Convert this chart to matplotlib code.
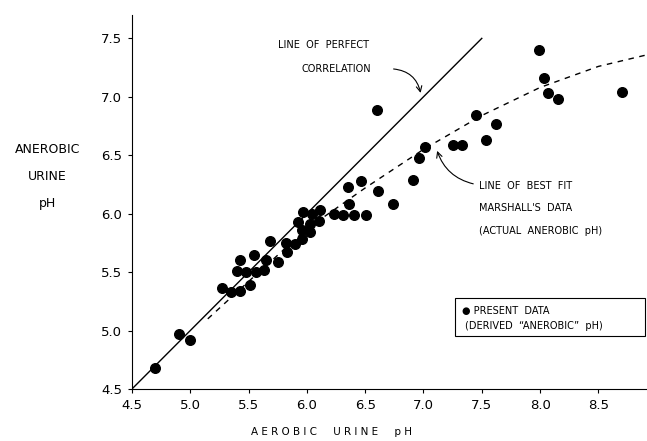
import matplotlib
matplotlib.use("Agg")
import matplotlib.pyplot as plt
from matplotlib.patches import Rectangle

# present data (derived "anerobic" pH)
aerobic = [4.70, 4.90, 5.00, 5.27, 5.35, 5.43, 5.51, 5.40, 5.48, 5.56, 5.63,
           5.43, 5.55, 5.65, 5.75, 5.68, 5.82, 5.83, 5.90, 5.96, 5.96, 6.03,
           5.92, 6.03, 6.10, 5.97, 6.04, 6.11, 6.23, 6.31, 6.40, 6.51, 6.36,
           6.35, 6.46, 6.61, 6.74, 6.60, 6.91, 6.96, 7.01, 7.25, 7.33, 7.45,
           7.54, 7.62, 7.99, 8.03, 8.07, 8.15, 8.70]
anerobic = [4.68, 4.97, 4.92, 5.36, 5.33, 5.34, 5.39, 5.51, 5.50, 5.50, 5.52,
            5.60, 5.65, 5.60, 5.59, 5.77, 5.75, 5.67, 5.74, 5.78, 5.86, 5.84,
            5.93, 5.91, 5.94, 6.01, 6.00, 6.03, 6.00, 5.99, 5.99, 5.99, 6.08,
            6.23, 6.28, 6.19, 6.08, 6.89, 6.29, 6.48, 6.57, 6.59, 6.59, 6.84,
            6.63, 6.77, 7.40, 7.16, 7.03, 6.98, 7.04]

# Marshall's best fit line
fit_x = [5.15, 5.5, 6.0, 6.5, 7.0, 7.5, 8.0, 8.5, 8.92]
fit_y = [5.10, 5.42, 5.87, 6.22, 6.55, 6.84, 7.08, 7.26, 7.36]

perfect = [4.5, 7.5]

ticks = [4.5, 5.0, 5.5, 6.0, 6.5, 7.0, 7.5, 8.0, 8.5]
yticks = [4.5, 5.0, 5.5, 6.0, 6.5, 7.0, 7.5]

fig = plt.figure(figsize=(6.47, 4.41), dpi=100)
ax = fig.add_axes([0.204, 0.118, 0.796, 0.848])

ax.plot(perfect, perfect, color="black", lw=1.0)
ax.plot(fit_x, fit_y, color="black", lw=1.0, ls=(0, (4, 4)))
ax.scatter(aerobic, anerobic, s=48, color="black", zorder=3)

ax.set_xlim(4.5, 8.917)
ax.set_ylim(4.5, 7.70)
ax.set_xticks(ticks)
ax.set_yticks(yticks)
ax.set_xticklabels(["%.1f" % t for t in ticks], fontsize=9.5)
ax.set_yticklabels(["%.1f" % t for t in yticks], fontsize=9.5)
ax.tick_params(length=3, width=0.8, pad=4)
ax.spines["top"].set_visible(False)
ax.spines["right"].set_visible(False)

fig.text(0.512, 0.02, "A E R O B I C     U R I N E     p H", ha="center",
         va="center", fontsize=7.5)
fig.text(0.073, 0.60, "ANEROBIC\nURINE\npH", ha="center", va="center",
         fontsize=9, linespacing=2.4)

ax.text(5.75, 7.44, "LINE  OF  PERFECT", fontsize=7, va="center")
ax.text(5.95, 7.24, "CORRELATION", fontsize=7, va="center")
ax.annotate("", xy=(6.98, 7.01), xytext=(6.72, 7.24),
            arrowprops=dict(arrowstyle="->", color="black", lw=0.8,
                            connectionstyle="arc3,rad=-0.4"))

ax.text(7.48, 6.24, "LINE  OF  BEST  FIT", fontsize=7, va="center")
ax.text(7.48, 6.05, "MARSHALL'S  DATA", fontsize=7, va="center")
ax.text(7.48, 5.85, "(ACTUAL  ANEROBIC  pH)", fontsize=7, va="center")
ax.annotate("", xy=(7.11, 6.56), xytext=(7.45, 6.25),
            arrowprops=dict(arrowstyle="->", color="black", lw=0.8,
                            connectionstyle="arc3,rad=-0.3"))

# legend box
ax.add_patch(Rectangle((7.27, 4.95), 8.90 - 7.27, 0.33, fill=False,
                       edgecolor="black", lw=0.8, clip_on=False))
ax.text(7.33, 5.17, "\u25cf PRESENT  DATA", fontsize=7, va="center")
ax.text(7.36, 5.04, "(DERIVED  \u201cANEROBIC\u201d  pH)", fontsize=7, va="center")

fig.savefig("out.png", dpi=100)
